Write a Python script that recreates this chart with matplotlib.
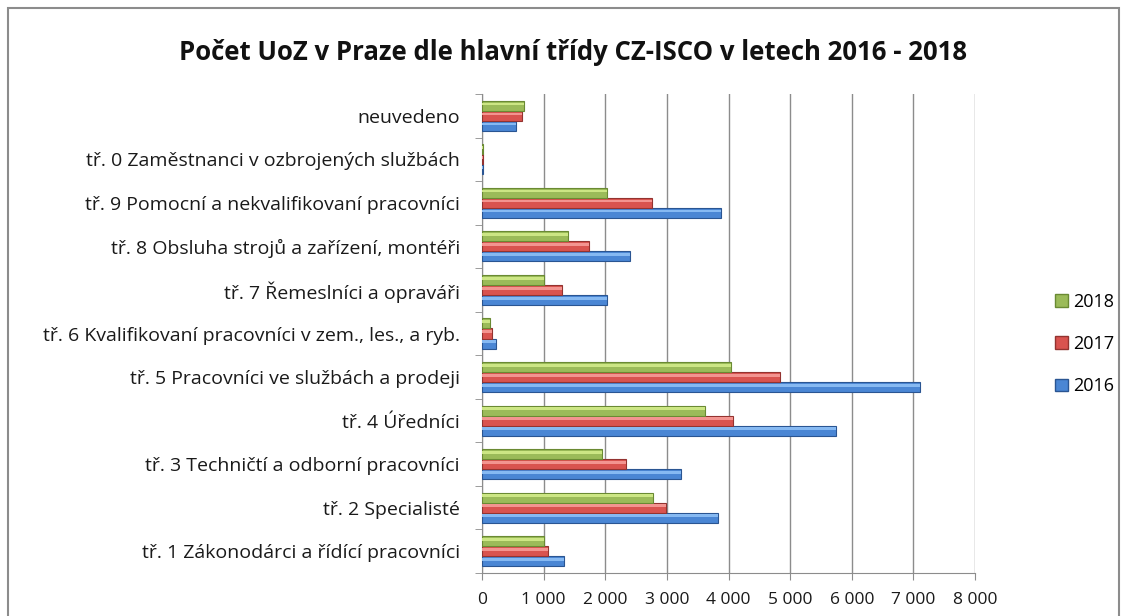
import numpy as np
import matplotlib
matplotlib.use('Agg')
import matplotlib.pyplot as plt
from matplotlib.patches import Patch, Rectangle
from matplotlib.ticker import FuncFormatter

plt.rcParams['font.family'] = ['Open Sans', 'DejaVu Sans']

# categories from bottom to top
categories = ['tř. 1 Zákonodárci a řídící pracovníci',
              'tř. 2 Specialisté',
              'tř. 3 Techničtí a odborní pracovníci',
              'tř. 4 Úředníci',
              'tř. 5 Pracovníci ve službách a prodeji',
              'tř. 6 Kvalifikovaní pracovníci v zem., les., a ryb.',
              'tř. 7 Řemeslníci a opraváři',
              'tř. 8 Obsluha strojů a zařízení, montéři',
              'tř. 9 Pomocní a nekvalifikovaní pracovníci',
              'tř. 0 Zaměstnanci v ozbrojených službách',
              'neuvedeno']

v2016 = [1338, 3832, 3236, 5750, 7100, 228, 2027, 2395, 3870, 14, 553]
v2017 = [1073, 2981, 2336, 4070, 4830, 168, 1296, 1740, 2759, 16, 655]
v2018 = [1013, 2775, 1940, 3618, 4033, 130, 1003, 1398, 2022, 18, 683]

years = ['2016', '2017', '2018']
# mid, light, dark
colors = {'2016': ('#4a86d4', '#86b9f2', '#2a5592'),
          '2017': ('#d9534f', '#f39490', '#933330'),
          '2018': ('#9bbb59', '#cce684', '#6a8a33')}

fig = plt.figure(figsize=(11.22, 6.16), dpi=100)
ax = fig.add_axes([0.4296, 0.0698, 0.4394, 0.7776])

y = np.arange(len(categories))
w = 0.23
for k, (yr, vals) in enumerate(zip(years, [v2016, v2017, v2018])):
    mid, light, dark = colors[yr]
    pos = y + (k - 1) * w
    ax.barh(pos, vals, height=w, color=mid, edgecolor=dark, linewidth=0.8, zorder=3)
    ax.barh(pos + w * 0.18, vals, height=w * 0.28, color=light, linewidth=0, zorder=4)

ax.set_xlim(0, 8000)
ax.set_ylim(-0.5, len(categories) - 0.5)
ax.set_xticks(np.arange(0, 8001, 1000))
ax.xaxis.set_major_formatter(FuncFormatter(lambda v, p: '{:,.0f}'.format(v).replace(',', ' ')))
ax.grid(axis='x', color='#8c8c8c', linewidth=1, zorder=0)

ax.set_yticks(y)
ax.set_yticklabels(categories, fontsize=14, color='#1a1a1a')
ax.set_yticks(np.arange(-0.5, len(categories), 1), minor=True)
ax.tick_params(axis='y', which='major', length=0, pad=16)
ax.tick_params(axis='y', which='minor', length=5, color='#8c8c8c', direction='out')
ax.tick_params(axis='x', length=5, color='#8c8c8c', labelsize=12.5, labelcolor='#1a1a1a', pad=9)

for s in ['top', 'right']:
    ax.spines[s].set_visible(False)
ax.spines['left'].set_color('#8c8c8c')
ax.spines['bottom'].set_color('#8c8c8c')

fig.suptitle('Počet UoZ v Praze dle hlavní třídy CZ-ISCO v letech 2016 - 2018',
             x=0.511, y=0.937, fontsize=18.5, fontweight='bold', color='#111111')

handles = [Patch(facecolor=colors[yr][0], edgecolor=colors[yr][2]) for yr in years[::-1]]
fig.legend(handles, years[::-1], loc='center left', bbox_to_anchor=(0.934, 0.4416),
           frameon=False, fontsize=13, handlelength=0.7, handleheight=0.7,
           handletextpad=0.3, labelspacing=1.35, borderaxespad=0)

fig.patches.append(Rectangle((8 / 1122, -0.05), 1111 / 1122, 1.05 - 8 / 616,
                             transform=fig.transFigure, fill=False,
                             edgecolor='#8c8c8c', linewidth=1.5))

fig.savefig('out.png', dpi=100, facecolor='white')
